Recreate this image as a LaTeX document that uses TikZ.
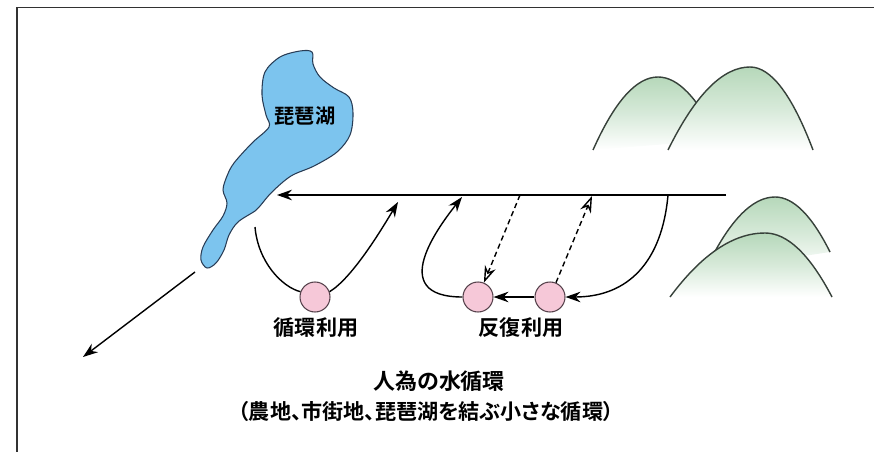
\documentclass[tikz,border=0pt]{standalone}
\usepackage{fontspec}
\newfontfamily\jpb{Noto Sans CJK JP Bold}
\newfontfamily\jpbp{Noto Sans CJK JP Bold}[RawFeature=+palt]
\usetikzlibrary{arrows.meta}

\definecolor{lakeblue}{RGB}{124,196,238}
\definecolor{lakeedge}{RGB}{40,60,85}
\definecolor{hillgreen}{RGB}{182,216,186}
\definecolor{hilledge}{RGB}{55,65,58}
\definecolor{pinkfill}{RGB}{246,200,216}
\definecolor{pinkedge}{RGB}{85,65,75}
\definecolor{framegrey}{RGB}{50,50,50}

% one hill: left foot (#1,#2), top (#3,#4), right foot (#5,#6)
\newcommand\hillcurve[6]{(#1,#2) .. controls ({#1+(#3-#1)/3},{#2+2*(#4-#2)/3}) and ({#3-(#3-#1)/3},#4) .. (#3,#4)
  .. controls ({#3+(#5-#3)/3},#4) and ({#5-(#5-#3)/3},{#6+2*(#4-#6)/3}) .. (#5,#6)}
\newcommand\hill[6]{%
  \shade[top color=hillgreen,bottom color=white,middle color=hillgreen!55!white] \hillcurve{#1}{#2}{#3}{#4}{#5}{#6} -- cycle;
  \draw[hillline] \hillcurve{#1}{#2}{#3}{#4}{#5}{#6};
}

\begin{document}
\begin{tikzpicture}[x=0.02cm,y=-0.02cm,
    mainflow/.style={line width=0.8pt,-{Stealth[length=8.5pt,width=6pt]}},
    dashflow/.style={line width=0.8pt,dash pattern=on 3pt off 2pt,-{Stealth[open,length=9.5pt,width=6.5pt,fill=white]}},
    usecircle/.style={circle,draw=pinkedge,fill=pinkfill,line width=0.6pt,minimum size=0.6cm,inner sep=0pt},
    hillline/.style={draw=hilledge,line width=0.8pt},
    lbl/.style={font=\jpb\fontsize{12}{14}\selectfont}]
    \useasboundingbox (0,0) rectangle (874,452);

    % Frame
    \draw[line width=1.1pt,framegrey] (17,452) -- (17,7.5) -- (874,7.5);

    % Mountains
    \hill{593}{150}{658}{77}{718}{140}
    \hill{668}{150}{750}{67}{813}{150}
    \hill{705}{271}{775}{197}{830}{252}
    \hill{670}{297}{765}{233}{832}{297}

    % Lake
    \filldraw[fill=lakeblue,draw=lakeedge,line width=0.6pt]
        plot[smooth cycle,tension=0.55] coordinates {
        (312,52) (313,64) (320,77) (334,88) (349,97) (353,113) (350,135)
        (337,152) (314,166) (291,176) (272,192) (260,206) (255,211)
        (238,222) (229,235) (224,250) (216,263) (207,268) (201,260)
        (203,247) (213,230) (223,216) (227,203) (223,190) (227,176)
        (234,163) (252,143) (269,127) (266,115) (262,95) (265,72)
        (280,57) (300,51)};
    \node[lbl,font=\jpb\fontsize{11.5}{13}\selectfont] (biwa) at (305,116) {琵琶湖};

    % River line and points on it
    \coordinate (src) at (726,195);
    \coordinate (lk) at (277,195);
    \coordinate (j1) at (462,197);
    \coordinate (j2) at (520,195);
    \coordinate (j3) at (668,195);
    \coordinate (j4) at (592,196);
    \coordinate (u1) at (255,227);
    \coordinate (u2) at (398,202);
    \coordinate (out) at (195,272);
    \coordinate (sea) at (83,357);

    % Water use points
    \node[usecircle] (c1) at (315,297) {};
    \node[usecircle] (r1) at (478,297) {};
    \node[usecircle] (r2) at (550,297) {};

    \node[lbl] (l1) at (316,328) {循環利用};
    \node[lbl] (l2) at (521,328) {反復利用};

    % Flows
    \draw[mainflow] (src) -- (lk);
    \draw[mainflow] (out) -- (sea);
    \draw[line width=0.8pt] (u1) .. controls (258,262) and (282,287) .. (c1.160);
    \draw[mainflow] (c1.20) .. controls (352,278) and (380,232) .. (u2);
    \draw[mainflow] (j3) .. controls (662,262) and (628,297) .. (r2.east);
    \draw[mainflow] (r2.west) -- (r1.east);
    \draw[mainflow] (r1.west) .. controls (385,297) and (440,225) .. (j1);
    \draw[dashflow] (j2) -- (r1);
    \draw[dashflow] (r2) -- (j4);

    % Caption
    \node[lbl,font=\jpb\fontsize{12.5}{15}\selectfont] (t1) at (439,381) {人為の水循環};
    \node[lbl,font=\jpbp\fontsize{12}{14}\selectfont] (t2) at (426,411) {（農地、市街地、琵琶湖を結ぶ小さな循環）};
\end{tikzpicture}
\end{document}
